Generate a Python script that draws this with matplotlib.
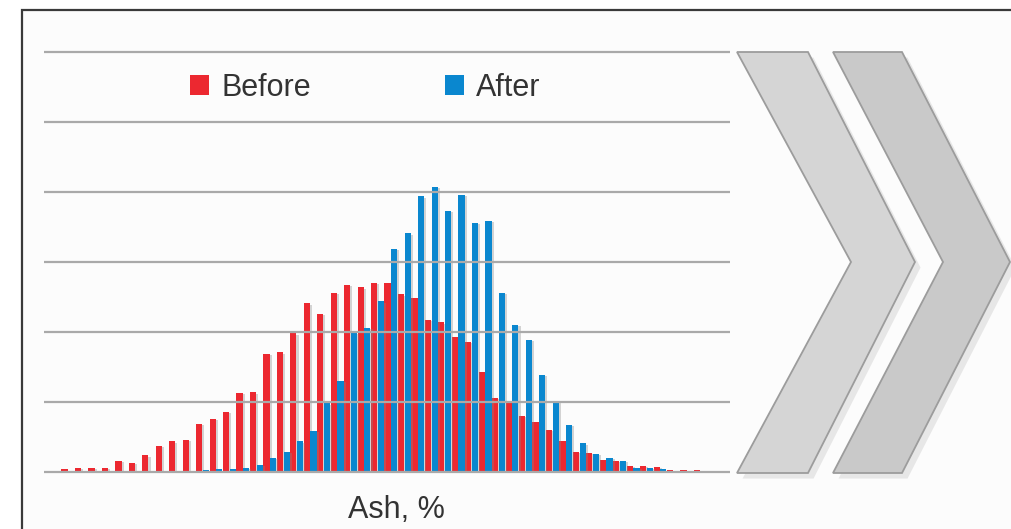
import numpy as np
import matplotlib
matplotlib.use("Agg")
import matplotlib.pyplot as plt
import matplotlib.patheffects as pe
from matplotlib.patches import Polygon, Patch

plt.rcParams['font.family'] = ['Liberation Sans', 'DejaVu Sans']

# Ash distribution, relative frequency (1 unit = 1 grid step)
before = [0.04, 0.06, 0.06, 0.06, 0.16, 0.13, 0.24, 0.37, 0.44, 0.46,
          0.69, 0.76, 0.86, 1.13, 1.14, 1.69, 1.71, 1.98, 2.41, 2.26,
          2.56, 2.67, 2.64, 2.70, 2.70, 2.54, 2.49, 2.17, 2.14, 1.93,
          1.86, 1.43, 1.06, 0.98, 0.80, 0.71, 0.60, 0.44, 0.29, 0.27,
          0.17, 0.16, 0.09, 0.09, 0.07, 0.025, 0.025, 0.025]
after = [0, 0, 0, 0, 0, 0, 0, 0, 0, 0,
         0.03, 0.04, 0.04, 0.06, 0.10, 0.20, 0.29, 0.44, 0.59, 0.98,
         1.30, 1.99, 2.06, 2.44, 3.19, 3.41, 3.94, 4.07, 3.73, 3.96,
         3.56, 3.59, 2.56, 2.10, 1.89, 1.39, 1.00, 0.67, 0.41, 0.26,
         0.20, 0.16, 0.06, 0.06, 0.04, 0, 0, 0]
labels = ["Before", "After"]
xlabel = "Ash, %"

red = '#EC2830'
blue = '#0A87CF'

W, H = 1011, 529
fig = plt.figure(figsize=(W / 100, H / 100), dpi=100)

# background / decoration layer in pixel coords
bg = fig.add_axes([0, 0, 1, 1], zorder=0)
bg.set_xlim(0, W)
bg.set_ylim(H, 0)
bg.axis('off')
bg.fill([22, W, W, 22], [10, 10, H, H], color='#fcfcfc', zorder=0)
bg.plot([22, 22, W], [H, 10, 10], color='#3a3a3a', lw=1.6, zorder=1,
        solid_joinstyle='miter')

chev1 = [(737, 52), (808, 52), (915, 262), (808, 473), (737, 473), (851, 262)]
chev2 = [(833, 52), (902, 52), (1010, 262), (902, 473), (833, 473), (943, 262)]
for pts, fc in [(chev1, '#d5d5d5'), (chev2, '#c9c9c9')]:
    poly = Polygon(pts, closed=True, facecolor=fc, edgecolor='#9c9c9c', lw=1.3,
                   zorder=2)
    poly.set_path_effects([pe.SimplePatchShadow(offset=(4, -4), shadow_rgbFace='#aaaaaa',
                                                alpha=0.25), pe.Normal()])
    bg.add_patch(poly)

# main chart
pad = 0.03
ax = fig.add_axes([44 / W, (H - 472 - pad * 70) / H, 686 / W, (420 + 2 * pad * 70) / H],
                  zorder=1)
ax.patch.set_alpha(0)
x = np.arange(len(before))
sh = [pe.SimplePatchShadow(offset=(1.5, -1), shadow_rgbFace='#888888', alpha=0.35), pe.Normal()]
b1 = ax.bar(x - 0.25, before, width=0.46, color=red, zorder=1)
b2 = ax.bar(x + 0.25, after, width=0.46, color=blue, zorder=1)
for b in list(b1) + list(b2):
    b.set_path_effects(sh)

ax.set_xlim(-1.78, 49.2)
ax.set_ylim(-pad, 6 + pad)
ax.set_yticks(range(7))
ax.set_xticks([])
ax.tick_params(left=False, labelleft=False)
ax.grid(axis='y', color='#a9a9a9', lw=1.6, zorder=3)
ax.set_axisbelow(False)
for s in ax.spines.values():
    s.set_visible(False)

handles = [Patch(facecolor=red), Patch(facecolor=blue)]
fig.legend(handles, labels, loc='center left', bbox_to_anchor=(190 / W, 1 - 88 / H),
           ncol=2, frameon=False, fontsize=22, borderpad=0, borderaxespad=0,
           handlelength=0.62, handleheight=0.62, handletextpad=0.4, columnspacing=4.4,
           labelcolor='#333333')

fig.text(396 / W, 1 - 518 / H, xlabel, ha='center', va='baseline', fontsize=22,
         color='#333333')

fig.savefig('out.png', dpi=100)
